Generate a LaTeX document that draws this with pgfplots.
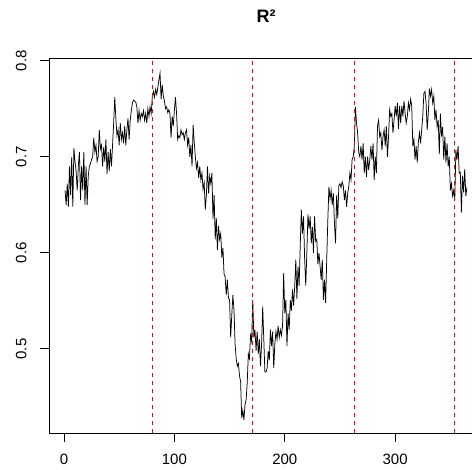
\documentclass[border=0pt]{standalone}
\usepackage{pgfplots}
\usepackage{pgfplotstable}
\pgfplotsset{compat=1.18}
\usepackage{fontspec}
\setmainfont{Liberation Sans}

% Daily R^2 values, day of year 1..365
\pgfplotstableread{
day r2
1 0.665
2 0.650
3 0.672
4 0.648
5 0.690
6 0.660
7 0.700
8 0.648
9 0.709
10 0.695
11 0.685
12 0.665
13 0.690
14 0.705
15 0.655
16 0.690
17 0.665
18 0.705
19 0.650
20 0.690
21 0.650
22 0.680
23 0.690
24 0.693
25 0.697
26 0.700
27 0.720
28 0.705
29 0.712
30 0.695
31 0.700
32 0.728
33 0.708
34 0.712
35 0.690
36 0.710
37 0.695
38 0.718
39 0.682
40 0.705
41 0.685
42 0.708
43 0.690
44 0.712
45 0.735
46 0.762
47 0.740
48 0.722
49 0.728
50 0.712
51 0.735
52 0.718
53 0.725
54 0.714
55 0.732
56 0.712
57 0.728
58 0.740
59 0.718
60 0.738
61 0.748
62 0.756
63 0.759
64 0.758
65 0.757
66 0.752
67 0.735
68 0.748
69 0.738
70 0.745
71 0.742
72 0.748
73 0.738
74 0.745
75 0.735
76 0.750
77 0.742
78 0.752
79 0.745
80 0.762
81 0.768
82 0.762
83 0.770
84 0.765
85 0.772
86 0.780
87 0.787
88 0.760
89 0.775
90 0.763
91 0.758
92 0.750
93 0.752
94 0.746
95 0.749
96 0.745
97 0.720
98 0.742
99 0.732
100 0.748
101 0.762
102 0.745
103 0.718
104 0.722
105 0.720
106 0.728
107 0.723
108 0.725
109 0.718
110 0.725
111 0.728
112 0.712
113 0.720
114 0.700
115 0.712
116 0.690
117 0.733
118 0.715
119 0.700
120 0.688
121 0.694
122 0.678
123 0.690
124 0.676
125 0.683
126 0.666
127 0.673
128 0.645
129 0.660
130 0.690
131 0.662
132 0.680
133 0.672
134 0.683
135 0.635
136 0.660
137 0.614
138 0.636
139 0.603
140 0.628
141 0.614
142 0.620
143 0.595
144 0.605
145 0.578
146 0.575
147 0.556
148 0.572
149 0.553
150 0.551
151 0.512
152 0.535
153 0.556
154 0.541
155 0.505
156 0.490
157 0.482
158 0.485
159 0.472
160 0.466
161 0.428
162 0.436
163 0.426
164 0.442
165 0.447
166 0.465
167 0.495
168 0.490
169 0.514
170 0.508
171 0.551
172 0.512
173 0.520
174 0.498
175 0.518
176 0.495
177 0.510
178 0.482
179 0.505
180 0.544
181 0.510
182 0.476
183 0.476
184 0.480
185 0.498
186 0.488
187 0.520
188 0.503
189 0.518
190 0.480
191 0.505
192 0.518
193 0.510
194 0.524
195 0.512
196 0.520
197 0.514
198 0.524
199 0.579
200 0.537
201 0.551
202 0.503
203 0.537
204 0.520
205 0.551
206 0.540
207 0.562
208 0.545
209 0.565
210 0.593
211 0.552
212 0.586
213 0.566
214 0.607
215 0.645
216 0.620
217 0.638
218 0.594
219 0.566
220 0.600
221 0.640
222 0.625
223 0.638
224 0.610
225 0.627
226 0.600
227 0.638
228 0.612
229 0.614
230 0.588
231 0.600
232 0.586
233 0.572
234 0.593
235 0.551
236 0.572
237 0.548
238 0.593
239 0.634
240 0.669
241 0.656
242 0.665
243 0.650
244 0.662
245 0.631
246 0.610
247 0.660
248 0.636
249 0.670
250 0.672
251 0.668
252 0.674
253 0.670
254 0.655
255 0.665
256 0.648
257 0.662
258 0.669
259 0.683
260 0.676
261 0.697
262 0.700
263 0.711
264 0.752
265 0.735
266 0.725
267 0.704
268 0.700
269 0.711
270 0.697
271 0.714
272 0.683
273 0.700
274 0.679
275 0.700
276 0.686
277 0.697
278 0.711
279 0.697
280 0.714
281 0.676
282 0.700
283 0.683
284 0.732
285 0.738
286 0.721
287 0.725
288 0.707
289 0.721
290 0.728
291 0.711
292 0.732
293 0.700
294 0.721
295 0.749
296 0.742
297 0.745
298 0.725
299 0.738
300 0.753
301 0.742
302 0.756
303 0.729
304 0.753
305 0.735
306 0.753
307 0.742
308 0.758
309 0.745
310 0.735
311 0.742
312 0.756
313 0.749
314 0.760
315 0.753
316 0.711
317 0.718
318 0.697
319 0.711
320 0.694
321 0.715
322 0.725
323 0.714
324 0.728
325 0.742
326 0.766
327 0.768
328 0.756
329 0.728
330 0.745
331 0.771
332 0.763
333 0.770
334 0.756
335 0.763
336 0.738
337 0.749
338 0.731
339 0.738
340 0.703
341 0.745
342 0.721
343 0.731
344 0.697
345 0.721
346 0.694
347 0.714
348 0.690
349 0.700
350 0.665
351 0.672
352 0.659
353 0.665
354 0.655
355 0.707
356 0.697
357 0.711
358 0.683
359 0.684
360 0.642
361 0.680
362 0.663
363 0.687
364 0.659
365 0.668
}\rsquared

\begin{document}
\begin{tikzpicture}
\begin{axis}[
  at={(49pt,37pt)}, anchor=south west,
  scale only axis, width=434pt, height=375pt,
  xmin=-13.56, xmax=379.56, ymin=0.4125, ymax=0.8028,
  axis line style={line width=0.9pt},
  xtick pos=bottom, ytick pos=left,
  tick align=outside, major tick length=9pt,
  every tick/.style={black, line width=0.9pt},
  xtick={0,100,200,300}, ytick={0.5,0.6,0.7,0.8},
  /pgf/number format/assume math mode=true,
  ticklabel style={font=\fontsize{15}{18}\selectfont},
  xticklabel shift=9pt,
  yticklabel shift=10pt,
  yticklabel style={rotate=90, anchor=south,
    /pgf/number format/fixed, /pgf/number format/precision=1,
    /pgf/number format/fixed zerofill},
  title={R²},
  title style={at={(0.5,1)}, anchor=base, yshift=29pt,
    font=\fontsize{18}{21}\selectfont\bfseries},
]
\addplot[black, line width=0.75pt] table[x=day, y=r2] {\rsquared};
% season boundaries
\addplot[red, line width=0.9pt, dash pattern=on 4pt off 4pt] coordinates {(80,0.4125) (80,0.8028)};
\addplot[red, line width=0.9pt, dash pattern=on 4pt off 4pt] coordinates {(171,0.4125) (171,0.8028)};
\addplot[red, line width=0.9pt, dash pattern=on 4pt off 4pt] coordinates {(263,0.4125) (263,0.8028)};
\addplot[red, line width=0.9pt, dash pattern=on 4pt off 4pt] coordinates {(354,0.4125) (354,0.8028)};
\end{axis}
\pgfresetboundingbox
\path[use as bounding box] (0,0) rectangle (472pt,470pt);
\end{tikzpicture}
\end{document}
